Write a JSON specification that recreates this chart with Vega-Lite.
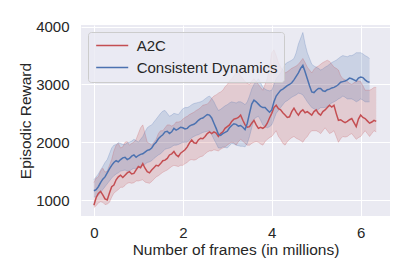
{
  "$schema": "https://vega.github.io/schema/vega-lite/v6.json",
  "width": 309,
  "height": 191,
  "autosize": {"type": "none"},
  "padding": {"left": 81, "top": 25, "right": 25, "bottom": 61},
  "background": "white",
  "config": {
    "view": {"fill": "#EAEAF2", "stroke": null},
    "font": "Liberation Sans",
    "axis": {
      "grid": true, "gridColor": "white", "gridWidth": 1, "domain": false, "ticks": false, "tickSize": 0,
      "labelFont": "Liberation Sans", "labelFontSize": 15, "labelColor": "#262626",
      "titleFont": "Liberation Sans", "titleFontSize": 15.5, "titleFontWeight": "normal", "titleColor": "#262626"
    }
  },
  "datasets": {
    "d": [
      {"s":"A2C","x":0.0,"m":910,"lo":870,"hi":1300},
      {"s":"A2C","x":0.1,"m":1115,"lo":950,"hi":1400},
      {"s":"A2C","x":0.2,"m":1090,"lo":960,"hi":1550},
      {"s":"A2C","x":0.3,"m":1000,"lo":930,"hi":1500},
      {"s":"A2C","x":0.4,"m":1230,"lo":1050,"hi":1700},
      {"s":"A2C","x":0.5,"m":1350,"lo":1150,"hi":1950},
      {"s":"A2C","x":0.6,"m":1430,"lo":1220,"hi":1900},
      {"s":"A2C","x":0.7,"m":1430,"lo":1250,"hi":2000},
      {"s":"A2C","x":0.8,"m":1490,"lo":1300,"hi":1950},
      {"s":"A2C","x":0.9,"m":1460,"lo":1300,"hi":2000},
      {"s":"A2C","x":1.0,"m":1580,"lo":1330,"hi":2150},
      {"s":"A2C","x":1.1,"m":1630,"lo":1350,"hi":2300},
      {"s":"A2C","x":1.2,"m":1490,"lo":1300,"hi":2000},
      {"s":"A2C","x":1.3,"m":1520,"lo":1320,"hi":1950},
      {"s":"A2C","x":1.4,"m":1600,"lo":1400,"hi":2050},
      {"s":"A2C","x":1.5,"m":1630,"lo":1450,"hi":2200},
      {"s":"A2C","x":1.6,"m":1690,"lo":1500,"hi":2250},
      {"s":"A2C","x":1.7,"m":1780,"lo":1550,"hi":2300},
      {"s":"A2C","x":1.8,"m":1840,"lo":1600,"hi":2300},
      {"s":"A2C","x":1.9,"m":1750,"lo":1580,"hi":2350},
      {"s":"A2C","x":2.0,"m":1840,"lo":1600,"hi":2400},
      {"s":"A2C","x":2.1,"m":1920,"lo":1650,"hi":2450},
      {"s":"A2C","x":2.2,"m":2040,"lo":1700,"hi":2500},
      {"s":"A2C","x":2.3,"m":1980,"lo":1700,"hi":2550},
      {"s":"A2C","x":2.4,"m":2070,"lo":1750,"hi":2600},
      {"s":"A2C","x":2.5,"m":2100,"lo":1800,"hi":2650},
      {"s":"A2C","x":2.6,"m":2180,"lo":1850,"hi":2700},
      {"s":"A2C","x":2.7,"m":2180,"lo":1870,"hi":2800},
      {"s":"A2C","x":2.8,"m":2100,"lo":1850,"hi":2850},
      {"s":"A2C","x":2.9,"m":2180,"lo":1900,"hi":2900},
      {"s":"A2C","x":3.0,"m":2270,"lo":1950,"hi":3000},
      {"s":"A2C","x":3.1,"m":2360,"lo":2000,"hi":3100},
      {"s":"A2C","x":3.2,"m":2410,"lo":1950,"hi":3200},
      {"s":"A2C","x":3.3,"m":2470,"lo":2050,"hi":3150},
      {"s":"A2C","x":3.4,"m":2300,"lo":1980,"hi":3050},
      {"s":"A2C","x":3.5,"m":2270,"lo":1950,"hi":3000},
      {"s":"A2C","x":3.6,"m":2380,"lo":2000,"hi":3100},
      {"s":"A2C","x":3.7,"m":2240,"lo":2000,"hi":3000},
      {"s":"A2C","x":3.8,"m":2240,"lo":1950,"hi":2900},
      {"s":"A2C","x":3.9,"m":2330,"lo":2050,"hi":3100},
      {"s":"A2C","x":4.0,"m":2500,"lo":2100,"hi":3550},
      {"s":"A2C","x":4.1,"m":2640,"lo":2200,"hi":3500},
      {"s":"A2C","x":4.2,"m":2560,"lo":2050,"hi":3300},
      {"s":"A2C","x":4.3,"m":2470,"lo":1950,"hi":3200},
      {"s":"A2C","x":4.4,"m":2440,"lo":2050,"hi":3250},
      {"s":"A2C","x":4.5,"m":2590,"lo":2100,"hi":3300},
      {"s":"A2C","x":4.6,"m":2470,"lo":2050,"hi":3350},
      {"s":"A2C","x":4.7,"m":2560,"lo":2000,"hi":3450},
      {"s":"A2C","x":4.8,"m":2530,"lo":2100,"hi":3300},
      {"s":"A2C","x":4.9,"m":2470,"lo":2200,"hi":3200},
      {"s":"A2C","x":5.0,"m":2560,"lo":2200,"hi":3300},
      {"s":"A2C","x":5.1,"m":2470,"lo":2150,"hi":3350},
      {"s":"A2C","x":5.2,"m":2560,"lo":2250,"hi":3400},
      {"s":"A2C","x":5.3,"m":2640,"lo":2150,"hi":3400},
      {"s":"A2C","x":5.4,"m":2640,"lo":2200,"hi":3300},
      {"s":"A2C","x":5.5,"m":2380,"lo":2000,"hi":3250},
      {"s":"A2C","x":5.6,"m":2360,"lo":2100,"hi":3100},
      {"s":"A2C","x":5.7,"m":2360,"lo":2100,"hi":3050},
      {"s":"A2C","x":5.8,"m":2410,"lo":2150,"hi":3000},
      {"s":"A2C","x":5.9,"m":2270,"lo":2050,"hi":3050},
      {"s":"A2C","x":6.0,"m":2470,"lo":2100,"hi":3050},
      {"s":"A2C","x":6.1,"m":2410,"lo":2200,"hi":2900},
      {"s":"A2C","x":6.2,"m":2330,"lo":2100,"hi":2900},
      {"s":"A2C","x":6.3,"m":2380,"lo":2200,"hi":2950},
      {"s":"A2C","x":6.35,"m":2360,"lo":2180,"hi":2950},
      {"s":"A2C","x":0.05,"m":1040,"lo":900,"hi":1380},
      {"s":"A2C","x":0.15,"m":1150,"lo":970,"hi":1500},
      {"s":"A2C","x":0.25,"m":1020,"lo":920,"hi":1480},
      {"s":"A2C","x":0.35,"m":1120,"lo":960,"hi":1600},
      {"s":"A2C","x":0.45,"m":1260,"lo":1120,"hi":1850},
      {"s":"A2C","x":0.55,"m":1400,"lo":1180,"hi":1980},
      {"s":"A2C","x":0.65,"m":1390,"lo":1220,"hi":1920},
      {"s":"A2C","x":0.75,"m":1470,"lo":1290,"hi":2010},
      {"s":"A2C","x":0.85,"m":1450,"lo":1290,"hi":1980},
      {"s":"A2C","x":0.95,"m":1520,"lo":1330,"hi":2050},
      {"s":"A2C","x":1.05,"m":1560,"lo":1340,"hi":2250},
      {"s":"A2C","x":1.15,"m":1550,"lo":1310,"hi":2150},
      {"s":"A2C","x":1.25,"m":1470,"lo":1290,"hi":1980},
      {"s":"A2C","x":1.35,"m":1560,"lo":1360,"hi":2000},
      {"s":"A2C","x":1.45,"m":1590,"lo":1420,"hi":2150},
      {"s":"A2C","x":1.55,"m":1680,"lo":1480,"hi":2200},
      {"s":"A2C","x":1.65,"m":1720,"lo":1520,"hi":2300},
      {"s":"A2C","x":1.75,"m":1800,"lo":1580,"hi":2280},
      {"s":"A2C","x":1.85,"m":1780,"lo":1590,"hi":2350},
      {"s":"A2C","x":1.95,"m":1810,"lo":1600,"hi":2360},
      {"s":"A2C","x":2.05,"m":1870,"lo":1630,"hi":2430},
      {"s":"A2C","x":2.15,"m":1990,"lo":1690,"hi":2480},
      {"s":"A2C","x":2.25,"m":1990,"lo":1690,"hi":2520},
      {"s":"A2C","x":2.35,"m":2040,"lo":1730,"hi":2570},
      {"s":"A2C","x":2.45,"m":2060,"lo":1760,"hi":2640},
      {"s":"A2C","x":2.55,"m":2150,"lo":1830,"hi":2660},
      {"s":"A2C","x":2.65,"m":2150,"lo":1850,"hi":2760},
      {"s":"A2C","x":2.75,"m":2160,"lo":1860,"hi":2820},
      {"s":"A2C","x":2.85,"m":2150,"lo":1880,"hi":2870},
      {"s":"A2C","x":2.95,"m":2240,"lo":1920,"hi":2960},
      {"s":"A2C","x":3.05,"m":2300,"lo":1980,"hi":3060},
      {"s":"A2C","x":3.15,"m":2400,"lo":1990,"hi":3150},
      {"s":"A2C","x":3.25,"m":2430,"lo":2010,"hi":3200},
      {"s":"A2C","x":3.35,"m":2380,"lo":2020,"hi":3100},
      {"s":"A2C","x":3.45,"m":2260,"lo":1950,"hi":3020},
      {"s":"A2C","x":3.55,"m":2330,"lo":1980,"hi":3060},
      {"s":"A2C","x":3.65,"m":2300,"lo":2010,"hi":3050},
      {"s":"A2C","x":3.75,"m":2260,"lo":1970,"hi":2950},
      {"s":"A2C","x":3.85,"m":2270,"lo":2010,"hi":3000},
      {"s":"A2C","x":3.95,"m":2420,"lo":2080,"hi":3300},
      {"s":"A2C","x":4.05,"m":2600,"lo":2150,"hi":3600},
      {"s":"A2C","x":4.15,"m":2580,"lo":2100,"hi":3380},
      {"s":"A2C","x":4.25,"m":2510,"lo":1980,"hi":3250},
      {"s":"A2C","x":4.35,"m":2430,"lo":2010,"hi":3220},
      {"s":"A2C","x":4.45,"m":2530,"lo":2080,"hi":3280},
      {"s":"A2C","x":4.55,"m":2520,"lo":2070,"hi":3320},
      {"s":"A2C","x":4.65,"m":2530,"lo":2030,"hi":3400},
      {"s":"A2C","x":4.75,"m":2510,"lo":2060,"hi":3380},
      {"s":"A2C","x":4.85,"m":2500,"lo":2160,"hi":3250},
      {"s":"A2C","x":4.95,"m":2530,"lo":2200,"hi":3260},
      {"s":"A2C","x":5.05,"m":2500,"lo":2180,"hi":3320},
      {"s":"A2C","x":5.15,"m":2530,"lo":2200,"hi":3380},
      {"s":"A2C","x":5.25,"m":2600,"lo":2200,"hi":3420},
      {"s":"A2C","x":5.35,"m":2610,"lo":2170,"hi":3350},
      {"s":"A2C","x":5.45,"m":2500,"lo":2100,"hi":3280},
      {"s":"A2C","x":5.55,"m":2390,"lo":2060,"hi":3150},
      {"s":"A2C","x":5.65,"m":2340,"lo":2090,"hi":3080},
      {"s":"A2C","x":5.75,"m":2390,"lo":2130,"hi":3020},
      {"s":"A2C","x":5.85,"m":2340,"lo":2100,"hi":3030},
      {"s":"A2C","x":5.95,"m":2400,"lo":2080,"hi":3060},
      {"s":"A2C","x":6.05,"m":2430,"lo":2150,"hi":2980},
      {"s":"A2C","x":6.15,"m":2370,"lo":2150,"hi":2900},
      {"s":"A2C","x":6.25,"m":2350,"lo":2150,"hi":2920},
      {"s":"Consistent Dynamics","x":0.0,"m":1160,"lo":1050,"hi":1350},
      {"s":"Consistent Dynamics","x":0.1,"m":1230,"lo":1080,"hi":1450},
      {"s":"Consistent Dynamics","x":0.2,"m":1360,"lo":1180,"hi":1580},
      {"s":"Consistent Dynamics","x":0.3,"m":1470,"lo":1280,"hi":1700},
      {"s":"Consistent Dynamics","x":0.4,"m":1600,"lo":1380,"hi":1900},
      {"s":"Consistent Dynamics","x":0.5,"m":1680,"lo":1450,"hi":1960},
      {"s":"Consistent Dynamics","x":0.6,"m":1700,"lo":1500,"hi":1980},
      {"s":"Consistent Dynamics","x":0.7,"m":1740,"lo":1520,"hi":1960},
      {"s":"Consistent Dynamics","x":0.8,"m":1720,"lo":1500,"hi":2000},
      {"s":"Consistent Dynamics","x":0.9,"m":1780,"lo":1550,"hi":2050},
      {"s":"Consistent Dynamics","x":1.0,"m":1770,"lo":1560,"hi":2000},
      {"s":"Consistent Dynamics","x":1.1,"m":1800,"lo":1600,"hi":2100},
      {"s":"Consistent Dynamics","x":1.2,"m":1860,"lo":1650,"hi":2250},
      {"s":"Consistent Dynamics","x":1.3,"m":1900,"lo":1680,"hi":2300},
      {"s":"Consistent Dynamics","x":1.4,"m":2000,"lo":1750,"hi":2400},
      {"s":"Consistent Dynamics","x":1.5,"m":2100,"lo":1800,"hi":2500},
      {"s":"Consistent Dynamics","x":1.6,"m":2180,"lo":1880,"hi":2550},
      {"s":"Consistent Dynamics","x":1.7,"m":2150,"lo":1900,"hi":2450},
      {"s":"Consistent Dynamics","x":1.8,"m":2240,"lo":1950,"hi":2500},
      {"s":"Consistent Dynamics","x":1.9,"m":2230,"lo":1960,"hi":2480},
      {"s":"Consistent Dynamics","x":2.0,"m":2250,"lo":2000,"hi":2580},
      {"s":"Consistent Dynamics","x":2.1,"m":2240,"lo":2000,"hi":2600},
      {"s":"Consistent Dynamics","x":2.2,"m":2300,"lo":2080,"hi":2650},
      {"s":"Consistent Dynamics","x":2.3,"m":2340,"lo":2120,"hi":2680},
      {"s":"Consistent Dynamics","x":2.4,"m":2410,"lo":2150,"hi":2700},
      {"s":"Consistent Dynamics","x":2.5,"m":2450,"lo":2180,"hi":2750},
      {"s":"Consistent Dynamics","x":2.6,"m":2470,"lo":2200,"hi":2800},
      {"s":"Consistent Dynamics","x":2.7,"m":2330,"lo":2050,"hi":2700},
      {"s":"Consistent Dynamics","x":2.8,"m":2140,"lo":1900,"hi":2550},
      {"s":"Consistent Dynamics","x":2.9,"m":2150,"lo":1920,"hi":2600},
      {"s":"Consistent Dynamics","x":3.0,"m":2190,"lo":1900,"hi":2650},
      {"s":"Consistent Dynamics","x":3.1,"m":2290,"lo":1980,"hi":2700},
      {"s":"Consistent Dynamics","x":3.2,"m":2310,"lo":1950,"hi":2680},
      {"s":"Consistent Dynamics","x":3.3,"m":2290,"lo":1930,"hi":2700},
      {"s":"Consistent Dynamics","x":3.4,"m":2220,"lo":1920,"hi":2650},
      {"s":"Consistent Dynamics","x":3.5,"m":2500,"lo":2100,"hi":2800},
      {"s":"Consistent Dynamics","x":3.6,"m":2730,"lo":2400,"hi":3000},
      {"s":"Consistent Dynamics","x":3.7,"m":2660,"lo":2450,"hi":3100},
      {"s":"Consistent Dynamics","x":3.8,"m":2600,"lo":2300,"hi":2950},
      {"s":"Consistent Dynamics","x":3.9,"m":2560,"lo":2250,"hi":2900},
      {"s":"Consistent Dynamics","x":4.0,"m":2560,"lo":2300,"hi":2900},
      {"s":"Consistent Dynamics","x":4.1,"m":2800,"lo":2500,"hi":3100},
      {"s":"Consistent Dynamics","x":4.2,"m":2900,"lo":2600,"hi":3200},
      {"s":"Consistent Dynamics","x":4.3,"m":2950,"lo":2700,"hi":3350},
      {"s":"Consistent Dynamics","x":4.4,"m":3000,"lo":2750,"hi":3400},
      {"s":"Consistent Dynamics","x":4.5,"m":3080,"lo":2800,"hi":3450},
      {"s":"Consistent Dynamics","x":4.6,"m":3200,"lo":2850,"hi":3700},
      {"s":"Consistent Dynamics","x":4.7,"m":3330,"lo":2820,"hi":3900},
      {"s":"Consistent Dynamics","x":4.8,"m":3100,"lo":2700,"hi":3550},
      {"s":"Consistent Dynamics","x":4.9,"m":2870,"lo":2600,"hi":3350},
      {"s":"Consistent Dynamics","x":5.0,"m":2900,"lo":2550,"hi":3300},
      {"s":"Consistent Dynamics","x":5.1,"m":2930,"lo":2600,"hi":3250},
      {"s":"Consistent Dynamics","x":5.2,"m":2880,"lo":2600,"hi":3300},
      {"s":"Consistent Dynamics","x":5.3,"m":2920,"lo":2650,"hi":3350},
      {"s":"Consistent Dynamics","x":5.4,"m":2950,"lo":2700,"hi":3400},
      {"s":"Consistent Dynamics","x":5.5,"m":3000,"lo":2750,"hi":3450},
      {"s":"Consistent Dynamics","x":5.6,"m":3050,"lo":2800,"hi":3500},
      {"s":"Consistent Dynamics","x":5.7,"m":3080,"lo":2750,"hi":3480},
      {"s":"Consistent Dynamics","x":5.8,"m":3100,"lo":2750,"hi":3500},
      {"s":"Consistent Dynamics","x":5.9,"m":3060,"lo":2700,"hi":3550},
      {"s":"Consistent Dynamics","x":6.0,"m":3130,"lo":2750,"hi":3550},
      {"s":"Consistent Dynamics","x":6.1,"m":3080,"lo":2700,"hi":3500},
      {"s":"Consistent Dynamics","x":6.2,"m":3040,"lo":2700,"hi":3450},
      {"s":"Consistent Dynamics","x":0.05,"m":1180,"lo":1060,"hi":1400},
      {"s":"Consistent Dynamics","x":0.15,"m":1300,"lo":1130,"hi":1520},
      {"s":"Consistent Dynamics","x":0.25,"m":1400,"lo":1230,"hi":1650},
      {"s":"Consistent Dynamics","x":0.35,"m":1540,"lo":1330,"hi":1800},
      {"s":"Consistent Dynamics","x":0.45,"m":1650,"lo":1420,"hi":1950},
      {"s":"Consistent Dynamics","x":0.55,"m":1660,"lo":1470,"hi":1990},
      {"s":"Consistent Dynamics","x":0.65,"m":1730,"lo":1510,"hi":1960},
      {"s":"Consistent Dynamics","x":0.75,"m":1700,"lo":1500,"hi":1990},
      {"s":"Consistent Dynamics","x":0.85,"m":1760,"lo":1530,"hi":2020},
      {"s":"Consistent Dynamics","x":0.95,"m":1740,"lo":1540,"hi":2030},
      {"s":"Consistent Dynamics","x":1.05,"m":1790,"lo":1580,"hi":2050},
      {"s":"Consistent Dynamics","x":1.15,"m":1830,"lo":1620,"hi":2180},
      {"s":"Consistent Dynamics","x":1.25,"m":1870,"lo":1660,"hi":2280},
      {"s":"Consistent Dynamics","x":1.35,"m":1960,"lo":1720,"hi":2350},
      {"s":"Consistent Dynamics","x":1.45,"m":2060,"lo":1780,"hi":2450},
      {"s":"Consistent Dynamics","x":1.55,"m":2130,"lo":1840,"hi":2540},
      {"s":"Consistent Dynamics","x":1.65,"m":2190,"lo":1890,"hi":2500},
      {"s":"Consistent Dynamics","x":1.75,"m":2180,"lo":1920,"hi":2470},
      {"s":"Consistent Dynamics","x":1.85,"m":2210,"lo":1950,"hi":2490},
      {"s":"Consistent Dynamics","x":1.95,"m":2260,"lo":1980,"hi":2530},
      {"s":"Consistent Dynamics","x":2.05,"m":2230,"lo":2000,"hi":2600},
      {"s":"Consistent Dynamics","x":2.15,"m":2280,"lo":2040,"hi":2620},
      {"s":"Consistent Dynamics","x":2.25,"m":2310,"lo":2100,"hi":2670},
      {"s":"Consistent Dynamics","x":2.35,"m":2380,"lo":2130,"hi":2690},
      {"s":"Consistent Dynamics","x":2.45,"m":2420,"lo":2170,"hi":2720},
      {"s":"Consistent Dynamics","x":2.55,"m":2480,"lo":2190,"hi":2780},
      {"s":"Consistent Dynamics","x":2.65,"m":2420,"lo":2130,"hi":2760},
      {"s":"Consistent Dynamics","x":2.75,"m":2240,"lo":1980,"hi":2620},
      {"s":"Consistent Dynamics","x":2.85,"m":2120,"lo":1900,"hi":2570},
      {"s":"Consistent Dynamics","x":2.95,"m":2170,"lo":1910,"hi":2630},
      {"s":"Consistent Dynamics","x":3.05,"m":2250,"lo":1940,"hi":2680},
      {"s":"Consistent Dynamics","x":3.15,"m":2320,"lo":1970,"hi":2690},
      {"s":"Consistent Dynamics","x":3.25,"m":2280,"lo":1940,"hi":2700},
      {"s":"Consistent Dynamics","x":3.35,"m":2260,"lo":1930,"hi":2680},
      {"s":"Consistent Dynamics","x":3.45,"m":2330,"lo":1980,"hi":2700},
      {"s":"Consistent Dynamics","x":3.55,"m":2660,"lo":2250,"hi":2920},
      {"s":"Consistent Dynamics","x":3.65,"m":2700,"lo":2430,"hi":3050},
      {"s":"Consistent Dynamics","x":3.75,"m":2620,"lo":2380,"hi":3030},
      {"s":"Consistent Dynamics","x":3.85,"m":2600,"lo":2270,"hi":2920},
      {"s":"Consistent Dynamics","x":3.95,"m":2520,"lo":2270,"hi":2890},
      {"s":"Consistent Dynamics","x":4.05,"m":2700,"lo":2400,"hi":3000},
      {"s":"Consistent Dynamics","x":4.15,"m":2850,"lo":2550,"hi":3150},
      {"s":"Consistent Dynamics","x":4.25,"m":2920,"lo":2650,"hi":3280},
      {"s":"Consistent Dynamics","x":4.35,"m":2980,"lo":2720,"hi":3380},
      {"s":"Consistent Dynamics","x":4.45,"m":3030,"lo":2780,"hi":3420},
      {"s":"Consistent Dynamics","x":4.55,"m":3140,"lo":2820,"hi":3550},
      {"s":"Consistent Dynamics","x":4.65,"m":3280,"lo":2840,"hi":3800},
      {"s":"Consistent Dynamics","x":4.75,"m":3220,"lo":2760,"hi":3700},
      {"s":"Consistent Dynamics","x":4.85,"m":2980,"lo":2650,"hi":3450},
      {"s":"Consistent Dynamics","x":4.95,"m":2860,"lo":2580,"hi":3320},
      {"s":"Consistent Dynamics","x":5.05,"m":2930,"lo":2570,"hi":3280},
      {"s":"Consistent Dynamics","x":5.15,"m":2890,"lo":2600,"hi":3270},
      {"s":"Consistent Dynamics","x":5.25,"m":2910,"lo":2620,"hi":3320},
      {"s":"Consistent Dynamics","x":5.35,"m":2940,"lo":2680,"hi":3380},
      {"s":"Consistent Dynamics","x":5.45,"m":2970,"lo":2720,"hi":3420},
      {"s":"Consistent Dynamics","x":5.55,"m":3040,"lo":2770,"hi":3480},
      {"s":"Consistent Dynamics","x":5.65,"m":3060,"lo":2780,"hi":3490},
      {"s":"Consistent Dynamics","x":5.75,"m":3110,"lo":2750,"hi":3500},
      {"s":"Consistent Dynamics","x":5.85,"m":3080,"lo":2730,"hi":3520},
      {"s":"Consistent Dynamics","x":5.95,"m":3110,"lo":2720,"hi":3550},
      {"s":"Consistent Dynamics","x":6.05,"m":3120,"lo":2730,"hi":3530},
      {"s":"Consistent Dynamics","x":6.15,"m":3050,"lo":2700,"hi":3480}
    ]
  },
  "data": {"name": "d"},
  "encoding": {
    "x": {"field": "x", "type": "quantitative",
      "scale": {"domain": [-0.29, 6.66], "nice": false, "zero": false},
      "axis": {"title": "Number of frames (in millions)", "values": [0, 2, 4, 6], "labelPadding": 9, "titlePadding": 2}},
    "color": {"field": "s", "type": "nominal",
      "scale": {"domain": ["A2C", "Consistent Dynamics"], "range": ["#C44E52", "#4C72B0"]},
      "legend": {"title": null, "orient": "top-left", "offset": 7, "symbolType": "M-3,0H3", "symbolSize": 114,
        "symbolOffset": 10.7, "symbolStrokeWidth": 1.5, "symbolOpacity": 1, "symbolFillColor": "transparent",
        "labelFontSize": 15, "labelFont": "Liberation Sans", "labelColor": "#262626",
        "fillColor": "rgba(234,234,242,0.8)", "strokeColor": "#cccccc", "cornerRadius": 3, "padding": 6,
        "rowPadding": 6, "labelOffset": 17}}
  },
  "layer": [
    {"mark": {"type": "area", "opacity": 0.2},
     "encoding": {
       "y": {"field": "lo", "type": "quantitative", "title": "Episodic Reward",
         "scale": {"domain": [723, 4030], "nice": false, "zero": false},
         "axis": {"values": [1000, 2000, 3000, 4000], "format": "d", "labelPadding": 12, "titlePadding": 2}},
       "y2": {"field": "hi"}}},
    {"mark": {"type": "line", "strokeWidth": 0.8, "opacity": 0.3},
     "encoding": {"y": {"field": "lo", "type": "quantitative", "title": "Episodic Reward"}}},
    {"mark": {"type": "line", "strokeWidth": 0.8, "opacity": 0.3},
     "encoding": {"y": {"field": "hi", "type": "quantitative", "title": "Episodic Reward"}}},
    {"mark": {"type": "line", "strokeWidth": 1.5},
     "encoding": {"y": {"field": "m", "type": "quantitative", "title": "Episodic Reward"}}}
  ]
}
